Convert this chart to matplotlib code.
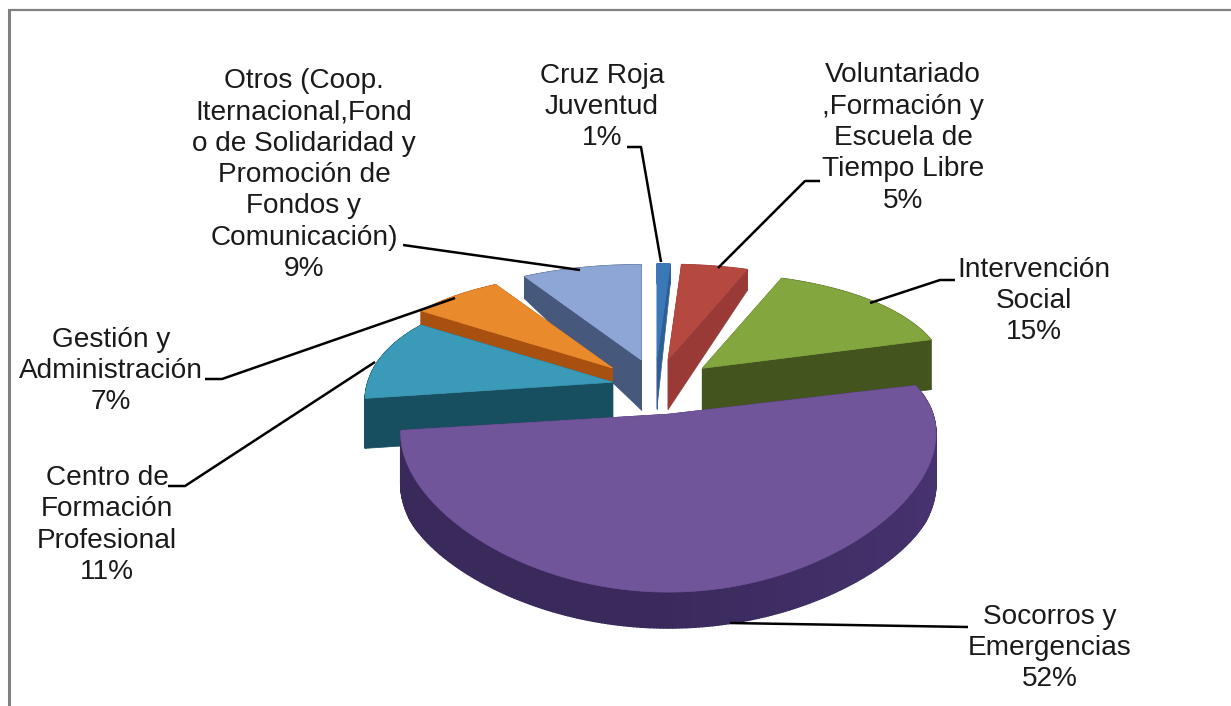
import numpy as np
import matplotlib
matplotlib.use("Agg")
import matplotlib.pyplot as plt
from matplotlib.patches import Polygon

plt.rcParams["font.family"] = ["Liberation Sans", "DejaVu Sans"]

# ---------------------------
# Data
# ---------------------------

categories = [
    "Cruz Roja\nJuventud",
    "Voluntariado\n,Formación y\nEscuela de\nTiempo Libre",
    "Intervención\nSocial",
    "Socorros y\nEmergencias",
    "Centro de\nFormación\nProfesional",
    "Gestión y\nAdministración",
    "Otros (Coop.\nIternacional,Fond\no de Solidaridad y\nPromoción de\nFondos y\nComunicación)",
]
values = [1, 5, 15, 52, 11, 7, 9]

top_colors = ["#3b78b8", "#b5483f", "#84a63e", "#70559a", "#3a9ab8", "#e98a2d", "#8da6d6"]
side_colors = ["#2d5f96", "#9a3a36", "#44541e", "#3a2a5c", "#184f60", "#a8500f", "#46587c"]

# how far each slice is pulled out of the pie, its width factor and small nudges
explode = [1, 1, 1.05, 1.45, 0.72, 1, 1]
width_scale = [1, 1, 1, 1.08, 1, 1, 1]
nudge_x = [0, 0, 0, -3, 0, 0, 3]
nudge_y = [3, 3, 5, 0, 6, 5, 3]

# label centre (x, y) in pixels
label_pos = [(602, 107), (903, 138), (1034, 301), (1050, 648), (107, 525), (111, 371), (304, 175)]

leaders = [
    [(627, 147), (641, 147), (661, 262)],
    [(820, 181), (805, 181), (718, 268)],
    [(955, 280), (940, 280), (870, 303)],
    [(968, 627), (730, 623)],
    [(168, 486), (185, 486), (375, 362)],
    [(205, 379), (222, 379), (455, 298)],
    [(403, 245), (580, 270)],
]

# draw back slices first
draw_order = [6, 0, 1, 5, 2, 4, 3]

# ---------------------------
# Pie geometry
# ---------------------------

CX, CY = 655, 380
RX, RY = 245, 124
KX, KY = 0.15, 0.303
EX, EY = 60, 24


def project(theta, apex, xscale=1.0):
    x = np.sin(theta)
    y = np.cos(theta)
    sx = apex[0] + RX * xscale * x / (1 + KX * y)
    sy = apex[1] - RY * y / (1 + KY * y)
    return sx, sy


def depth(y):
    return np.interp(y, [-1, -0.4, 0.25, 0.85, 1], [36, 50, 50, 22, 20])


def shade(color, f):
    rgb = np.array(matplotlib.colors.to_rgb(color))
    return tuple(np.clip(rgb * f, 0, 1))


fig = plt.figure(figsize=(12.31, 7.06), dpi=100)
ax = fig.add_axes([0, 0, 1, 1])
ax.set_xlim(0, 1231)
ax.set_ylim(706, 0)
ax.axis("off")

# grey frame of the screenshot
ax.plot([8.5, 8.5], [706, 10], color="#808080", lw=2.2, solid_capstyle="butt")
ax.plot([8, 1231], [10, 10], color="#808080", lw=1.6, solid_capstyle="butt")

fractions = np.cumsum([0] + values) / sum(values)

for order, i in enumerate(draw_order):
    t0 = fractions[i] * 2 * np.pi
    t1 = fractions[i + 1] * 2 * np.pi
    mid = (t0 + t1) / 2
    apex = (CX + EX * explode[i] * np.sin(mid) + nudge_x[i],
            CY - EY * explode[i] * np.cos(mid) + nudge_y[i])

    theta = np.linspace(t0, t1, max(int(values[i] * 6), 8))
    sx, sy = project(theta, apex, width_scale[i])
    d = depth(np.cos(theta))
    apex_d = depth(0)
    z = 2 + order

    # outer rim, a bit lighter towards the right hand side
    for j in range(len(theta) - 1):
        f = 1 + 0.22 * max(np.sin(theta[j]), 0)
        c = shade(side_colors[i], f)
        quad = [(sx[j], sy[j]), (sx[j + 1], sy[j + 1]),
                (sx[j + 1], sy[j + 1] + d[j + 1]), (sx[j], sy[j] + d[j])]
        ax.add_patch(Polygon(quad, fc=c, ec=c, lw=1, zorder=z))

    # radial side faces
    for px, py, pd in [(sx[0], sy[0], d[0]), (sx[-1], sy[-1], d[-1])]:
        quad = [apex, (px, py), (px, py + pd), (apex[0], apex[1] + apex_d)]
        ax.add_patch(Polygon(quad, fc=side_colors[i], ec=side_colors[i], lw=0.5, zorder=z))

    # top of the slice
    top = [apex] + list(zip(sx, sy))
    ax.add_patch(Polygon(top, fc=top_colors[i], ec=top_colors[i], lw=0.5, zorder=z))

# ---------------------------
# Leader lines and labels
# ---------------------------

for pts in leaders:
    xs, ys = zip(*pts)
    ax.plot(xs, ys, color="black", lw=1.8, zorder=20, solid_capstyle="butt")

for name, val, pos in zip(categories, values, label_pos):
    ax.text(pos[0], pos[1], f"{name}\n{val}%", ha="center", va="center",
            fontsize=20.2, linespacing=1.265, color="#1a1a1a", zorder=21)

fig.savefig("out.png", dpi=100)
